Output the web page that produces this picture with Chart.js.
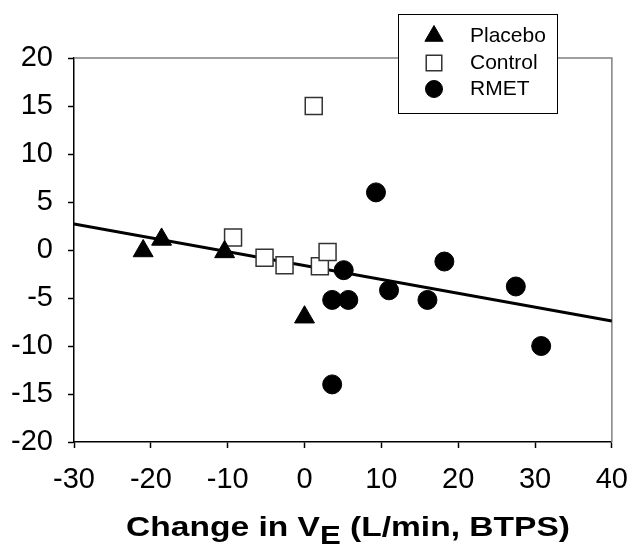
<!DOCTYPE html>
<html>
<head>
<meta charset="utf-8">
<script src="https://cdn.jsdelivr.net/npm/chart.js@4"></script>
<style>
  body { margin: 0; background: #fff; }
</style>
</head>
<body>
<canvas id="chart" width="643" height="545"></canvas>
<script>
// data
const placeboX = [-21, -18.6, -10.4, 0];
const placeboY = [-0.1, 1.1, -0.2, -7];
const controlX = [1.2, -9.3, -5.2, -2.6, 2.0, 3.0];
const controlY = [15, 1.3, -0.8, -1.6, -1.7, -0.2];
const rmetX = [9.3, 18.2, 5.1, 3.6, 5.7, 11, 16, 27.5, 30.8, 3.6];
const rmetY = [6, -1.2, -2.1, -5.2, -5.2, -4.2, -5.2, -3.8, -10, -14];
const trendX = [-30, 40];
const trendY = [2.7, -7.4];
const xTicks = [-30, -20, -10, 0, 10, 20, 30, 40];
const yTicks = [-20, -15, -10, -5, 0, 5, 10, 15, 20];

const pts = (xs, ys) => xs.map((x, i) => ({ x: x, y: ys[i] }));
const font = 'Arial, "Liberation Sans", sans-serif';

// gray top/right frame
const framePlugin = {
    id: 'frame',
    beforeDatasetsDraw(chart) {
        const a = chart.chartArea;
        const ctx = chart.ctx;
        ctx.save();
        ctx.strokeStyle = '#808080';
        ctx.lineWidth = 1.5;
        ctx.beginPath();
        ctx.moveTo(a.left, a.top);
        ctx.lineTo(a.right, a.top);
        ctx.lineTo(a.right, a.bottom);
        ctx.stroke();
        ctx.restore();
    }
};

// boxed legend + axis title with subscript
const extrasPlugin = {
    id: 'extras',
    afterDraw(chart) {
        const ctx = chart.ctx;
        ctx.save();
        // legend box
        ctx.fillStyle = '#fff';
        ctx.fillRect(398, 14, 159, 99);
        ctx.strokeStyle = '#000';
        ctx.lineWidth = 1;
        ctx.strokeRect(398.5, 14.5, 159, 99);
        const rows = [36, 63, 89];
        chart.data.datasets.slice(0, 3).forEach((ds, i) => {
            ctx.fillStyle = ds.backgroundColor;
            ctx.strokeStyle = ds.borderColor;
            ctx.lineWidth = ds.borderWidth;
            Chart.helpers.drawPoint(ctx, {
                pointStyle: ds.pointStyle,
                radius: ds.pointRadius - 1,
                borderWidth: ds.borderWidth
            }, 434, rows[i]);
            ctx.fillStyle = '#000';
            ctx.font = '21px ' + font;
            ctx.textBaseline = 'middle';
            ctx.textAlign = 'left';
            ctx.fillText(ds.label, 470, rows[i]);
        });

        // x axis title, stretched a little sideways like the original
        const big = 'bold 28px ' + font;
        const small = 'bold 26px ' + font;
        const p1 = 'Change in V', p2 = 'E', p3 = ' (L/min, BTPS)';
        ctx.font = big;
        const w1 = ctx.measureText(p1).width;
        const w3 = ctx.measureText(p3).width;
        ctx.font = small;
        const w2 = ctx.measureText(p2).width;
        const left = 126, right = 570;
        const sx = (right - left) / (w1 + w2 + w3);
        ctx.translate(left, 0);
        ctx.scale(sx, 1);
        const base = 536;
        let x = 0;
        ctx.fillStyle = '#000';
        ctx.textBaseline = 'alphabetic';
        ctx.textAlign = 'left';
        ctx.font = big;
        ctx.fillText(p1, x, base);
        x += w1;
        ctx.font = small;
        ctx.fillText(p2, x, base + 8);
        x += w2;
        ctx.font = big;
        ctx.fillText(p3, x, base);
        ctx.restore();
    }
};

new Chart(document.getElementById('chart'), {
    type: 'scatter',
    data: {
        datasets: [
            {
                label: 'Placebo',
                data: pts(placeboX, placeboY),
                pointStyle: 'triangle',
                pointRadius: 11.5,
                backgroundColor: '#000',
                borderColor: '#000',
                borderWidth: 1
            },
            {
                label: 'Control',
                data: pts(controlX, controlY),
                pointStyle: 'rect',
                pointRadius: 12,
                backgroundColor: '#fff',
                borderColor: '#333',
                borderWidth: 1.5
            },
            {
                label: 'RMET',
                data: pts(rmetX, rmetY),
                pointStyle: 'circle',
                pointRadius: 9.5,
                backgroundColor: '#000',
                borderColor: '#000',
                borderWidth: 1
            },
            {
                label: 'fit',
                data: pts(trendX, trendY),
                showLine: true,
                borderColor: '#000',
                borderWidth: 3,
                pointRadius: 0,
                order: 1
            }
        ]
    },
    options: {
        responsive: false,
        animation: false,
        layout: { padding: { top: 58, right: 20, left: 0, bottom: 0 } },
        plugins: {
            legend: { display: false },
            tooltip: { enabled: false }
        },
        scales: {
            x: {
                min: -30,
                max: 40,
                afterFit: s => { s.height = 103; },
                afterBuildTicks: s => { s.ticks = xTicks.map(v => ({ value: v })); },
                grid: { drawOnChartArea: false, tickLength: 6, color: '#000', tickWidth: 1.5 },
                border: { color: '#000', width: 1.5 },
                ticks: { color: '#000', padding: 15, font: { size: 29, family: font } }
            },
            y: {
                min: -20,
                max: 20,
                afterFit: s => { s.width = 74; },
                afterBuildTicks: s => { s.ticks = yTicks.map(v => ({ value: v })); },
                grid: { drawOnChartArea: false, tickLength: 6, color: '#000', tickWidth: 1.5 },
                border: { color: '#000', width: 1.5 },
                ticks: { color: '#000', padding: 15, font: { size: 29, family: font } }
            }
        }
    },
    plugins: [framePlugin, extrasPlugin]
});
</script>
</body>
</html>
